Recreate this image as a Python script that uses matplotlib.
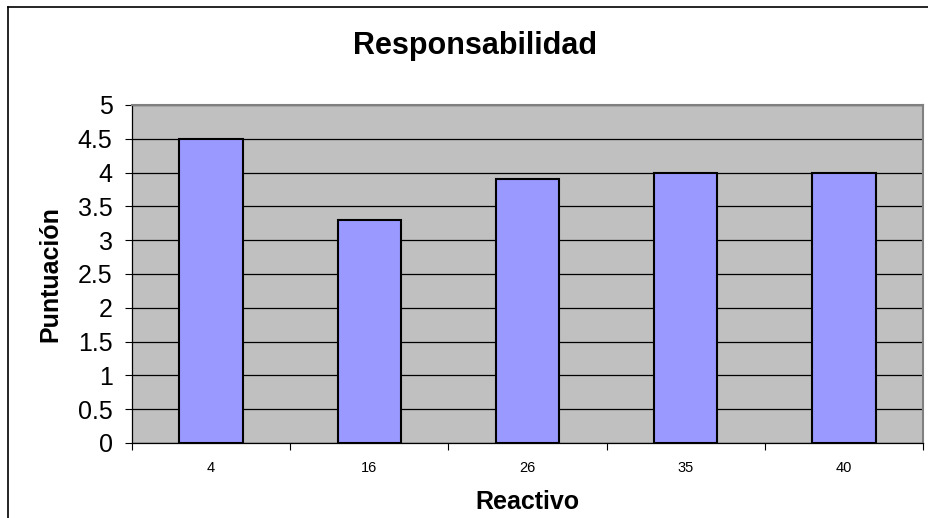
import matplotlib
matplotlib.use("Agg")
import matplotlib.pyplot as plt
from matplotlib.lines import Line2D
import numpy as np

plt.rcParams["font.family"] = ["Liberation Sans", "DejaVu Sans"]

# Puntuación media por reactivo
reactivos = ["4", "16", "26", "35", "40"]
puntuacion = [4.5, 3.3, 3.9, 4.0, 4.0]
y_ticks = [0, 0.5, 1, 1.5, 2, 2.5, 3, 3.5, 4, 4.5, 5]

fig = plt.figure(figsize=(9.29, 5.18), dpi=100)
ax = fig.add_axes([0.1421, 0.1448, 0.8514, 0.6525])

x = np.arange(len(reactivos))
ax.set_facecolor("#C0C0C0")
ax.bar(x, puntuacion, width=0.4, color="#9999FF", edgecolor="black",
       linewidth=1.5, zorder=3)

ax.set_xlim(-0.5, len(reactivos) - 0.5)
ax.set_ylim(0, 5)
ax.set_yticks(y_ticks)
ax.set_yticklabels([f"{t:g}" for t in y_ticks], fontsize=18)
ax.yaxis.grid(True, color="black", linewidth=0.9, zorder=1)
ax.set_axisbelow(True)

# categorías centradas, marcas entre categorías
ax.set_xticks(x)
ax.set_xticklabels(reactivos, fontsize=10.5)
ax.tick_params(axis="x", length=0, pad=13)
ax.set_xticks(np.arange(len(reactivos) + 1) - 0.5, minor=True)
ax.tick_params(axis="x", which="minor", length=5, width=0.8, direction="out")
ax.tick_params(axis="y", length=5, width=0.8, direction="out", pad=9)

for side in ["top", "right"]:
    ax.spines[side].set_color("#808080")
    ax.spines[side].set_linewidth(1.5)
for side in ["left", "bottom"]:
    ax.spines[side].set_color("black")
    ax.spines[side].set_linewidth(0.9)

ax.set_xlabel("Reactivo", fontsize=18, fontweight="bold", va="center")
ax.xaxis.set_label_coords(0.5, -0.175)
ax.set_ylabel("Puntuación", fontsize=18, fontweight="bold", va="center")
ax.yaxis.set_label_coords(-0.1037, 0.5)
fig.text(0.5113, 0.911, "Responsabilidad",
         ha="center", va="center", fontsize=22, fontweight="bold")

# marco del gráfico
fig.add_artist(Line2D([8 / 929, 8 / 929], [0, 1 - 7 / 518], color="black",
                      linewidth=1.2, transform=fig.transFigure))
fig.add_artist(Line2D([8 / 929, 1], [1 - 7 / 518, 1 - 7 / 518], color="black",
                      linewidth=1.2, transform=fig.transFigure))

fig.savefig("out.png", dpi=100)
